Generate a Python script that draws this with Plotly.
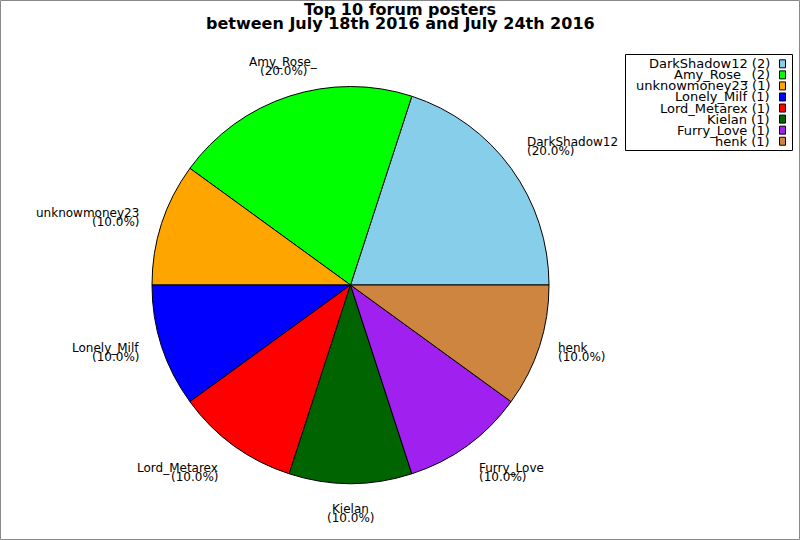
import math
import plotly.graph_objects as go

# forum posters and their post counts
names = ["DarkShadow12", "Amy_Rose_", "unknowmoney23", "Lonely_Milf",
         "Lord_Metarex", "Kielan", "Furry_Love", "henk"]
counts = [2, 2, 1, 1, 1, 1, 1, 1]
colors = ["#87ceeb", "#00ff00", "#ffa500", "#0000ff",
          "#ff0000", "#006400", "#a020f0", "#cd853f"]
title_lines = ["Top 10 forum posters", "between July 18th 2016 and July 24th 2016"]

W, H = 800, 540
ML, MR, MT, MB = 152, 251, 86, 56
PW, PH = W - ML - MR, H - MT - MB
FONT = "DejaVu Sans"


def px(x, y):
    # pixel position -> paper coords
    return (x - ML) / PW, 1 - (y - MT) / PH


total = sum(counts)
# plotly puts the first ccw slice clockwise of `rotation`, so back it off
# by that slice so it starts at 3 o'clock
rot = 90 - counts[0] / total * 360

fig = go.Figure(go.Pie(
    labels=names, values=counts, sort=False,
    direction="counterclockwise", rotation=rot,
    marker=dict(colors=colors, line=dict(color="black", width=1)),
    textinfo="none", hoverinfo="label+value+percent",
))

annotations = []
shapes = []

# slice labels, placed just outside the pie
cx, cy = ML + PW / 2, MT + PH / 2
R = min(PW, PH) / 2
rl = R * 1.1
cum = 0
for name, v in zip(names, counts):
    ang = math.radians((cum + v / 2) / total * 360)
    cum += v
    c, s = math.cos(ang), math.sin(ang)
    x, y = cx + rl * c, cy - rl * s
    if c > 0.45:
        xa, xs = "left", -1
    elif c < -0.45:
        xa, xs = "right", -3
    else:
        xa, xs = "center", 0
    if s > 0.45:
        y1, y2 = y - 15, y - 6
    elif s < -0.45:
        y1, y2 = y + 6, y + 15
    else:
        y1, y2 = y - 4.5, y + 4.5
    for txt, yy in ((name, y1), ("(%.1f%%)" % (v / total * 100), y2)):
        xp, yp = px(x, yy)
        annotations.append(dict(
            x=xp, y=yp, xref="paper", yref="paper", text=txt, showarrow=False,
            xanchor=xa, yanchor="middle", xshift=xs, borderpad=0,
            font=dict(family=FONT, size=12, color="black")))

# title, two tight lines
for txt, yy in zip(title_lines, (9.5, 23.5)):
    xp, yp = px(400, yy)
    annotations.append(dict(
        x=xp, y=yp, xref="paper", yref="paper", text="<b>%s</b>" % txt,
        showarrow=False, xanchor="center", yanchor="middle", borderpad=0,
        font=dict(family=FONT, size=16, color="black")))

# legend box with swatches on the right
x0, y0 = px(625.5, 54.5)
x1, y1 = px(792.5, 150.5)
shapes.append(dict(type="rect", xref="paper", yref="paper", x0=x0, y0=y0, x1=x1, y1=y1,
                   line=dict(color="black", width=1), fillcolor="white", layer="below"))
for i, (name, v, col) in enumerate(zip(names, counts, colors)):
    ry = 63.8 + 11.06 * i
    xp, yp = px(771, ry)
    annotations.append(dict(
        x=xp, y=yp, xref="paper", yref="paper", text="%s (%d)" % (name, v),
        showarrow=False, xanchor="right", yanchor="middle", borderpad=0,
        font=dict(family=FONT, size=13, color="black")))
    sx0, sy0 = px(779.5, ry - 4)
    sx1, sy1 = px(785.5, ry + 4)
    shapes.append(dict(type="rect", xref="paper", yref="paper", x0=sx0, y0=sy0, x1=sx1, y1=sy1,
                       line=dict(color="black", width=1), fillcolor=col))

# thin grey frame round the whole picture
bx0, by0 = px(0.5, 0.5)
bx1, by1 = px(W - 0.5, H - 0.5)
shapes.append(dict(type="rect", xref="paper", yref="paper", x0=bx0, y0=by0, x1=bx1, y1=by1,
                   line=dict(color="#888888", width=1)))

fig.update_layout(
    width=W, height=H,
    margin=dict(l=ML, r=MR, t=MT, b=MB),
    paper_bgcolor="white", plot_bgcolor="white",
    showlegend=False,
    annotations=annotations, shapes=shapes,
    font=dict(family=FONT, color="black"),
)

# drop the page's default body margin so the figure sits at 0,0
fig.write_html("out.html", config={"displayModeBar": False},
               post_script="document.body.style.margin='0px';")
